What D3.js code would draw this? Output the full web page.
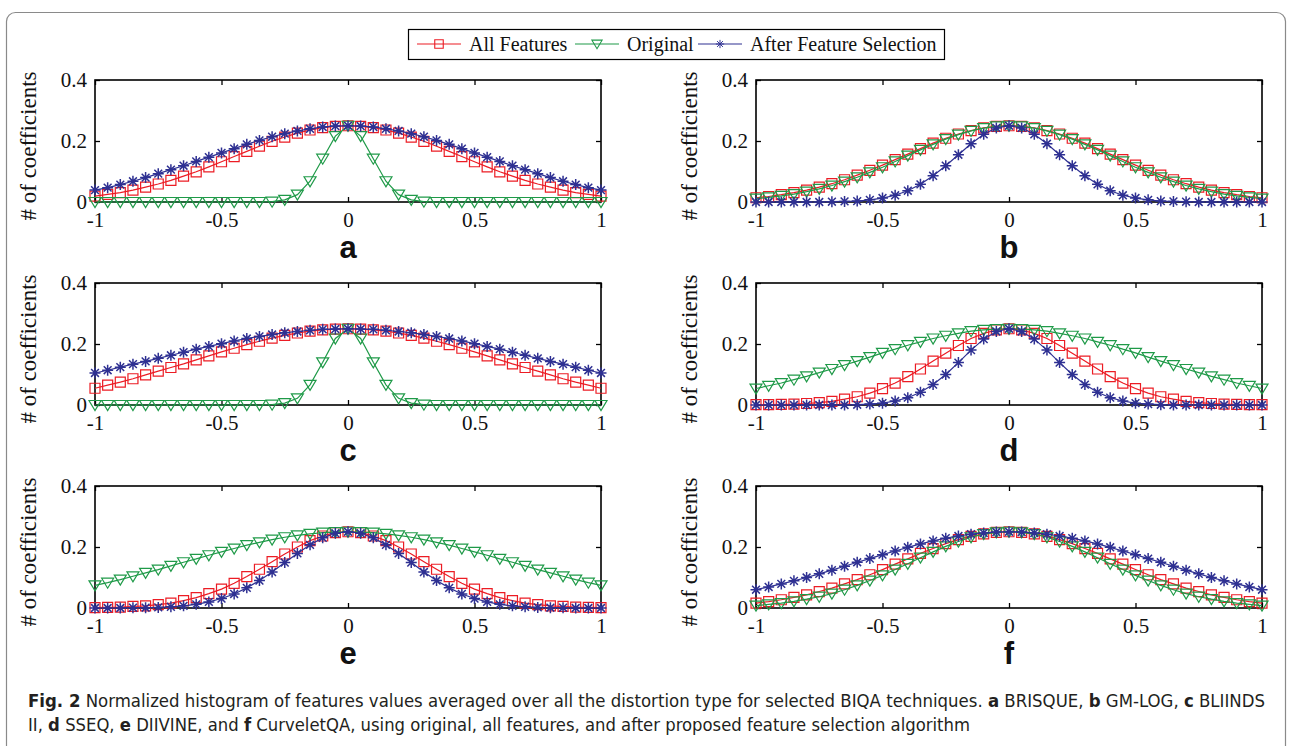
<!DOCTYPE html>
<html>
<head>
<meta charset="utf-8">
<script src="https://cdn.jsdelivr.net/npm/d3@7"></script>
<style>
    body { margin: 0; background: #fff; }
</style>
</head>
<body>
<div id="plot"></div>
<script>
// x positions of the histogram bins
let xValues = [-1, -0.95, -0.9, -0.85, -0.8, -0.75, -0.7, -0.65, -0.6, -0.55, -0.5, -0.45, -0.4, -0.35, -0.3, -0.25, -0.2, -0.15, -0.1, -0.05, 0,
    0.05, 0.1, 0.15, 0.2, 0.25, 0.3, 0.35, 0.4, 0.45, 0.5, 0.55, 0.6, 0.65, 0.7, 0.75, 0.8, 0.85, 0.9, 0.95, 1];

let xTicks = [-1, -0.5, 0, 0.5, 1];
let yTicks = [0, 0.2, 0.4];
let seriesNames = ['All Features', 'Original', 'After Feature Selection'];
let panelLetters = ['a', 'b', 'c', 'd', 'e', 'f'];

// a - BRISQUE
let aAll = [0.019, 0.025, 0.031, 0.039, 0.049, 0.059, 0.071, 0.085, 0.099, 0.115, 0.132, 0.149, 0.166, 0.183, 0.199, 0.213, 0.226, 0.236, 0.244, 0.248, 0.25,
    0.248, 0.244, 0.236, 0.226, 0.213, 0.199, 0.183, 0.166, 0.149, 0.132, 0.115, 0.099, 0.085, 0.071, 0.059, 0.049, 0.039, 0.031, 0.025, 0.019];
let aOrig = [0, 0, 0, 0, 0, 0, 0, 0, 0, 0, 0, 0, 0, 0, 0.001, 0.007, 0.024, 0.068, 0.142, 0.216, 0.25,
    0.216, 0.142, 0.068, 0.024, 0.007, 0.001, 0, 0, 0, 0, 0, 0, 0, 0, 0, 0, 0, 0, 0, 0];
let aSel = [0.039, 0.047, 0.057, 0.068, 0.080, 0.093, 0.106, 0.119, 0.133, 0.147, 0.161, 0.175, 0.189, 0.202, 0.214, 0.224, 0.233, 0.240, 0.246, 0.249, 0.25,
    0.249, 0.246, 0.240, 0.233, 0.224, 0.214, 0.202, 0.189, 0.175, 0.161, 0.147, 0.133, 0.119, 0.106, 0.093, 0.080, 0.068, 0.057, 0.047, 0.039];

// b - GM-LOG
let bAll = [0.014, 0.018, 0.024, 0.031, 0.039, 0.049, 0.060, 0.073, 0.088, 0.104, 0.121, 0.139, 0.157, 0.175, 0.193, 0.209, 0.223, 0.234, 0.243, 0.248, 0.25,
    0.248, 0.243, 0.234, 0.223, 0.209, 0.193, 0.175, 0.157, 0.139, 0.121, 0.104, 0.088, 0.073, 0.060, 0.049, 0.039, 0.031, 0.024, 0.018, 0.014];
let bOrig = [0.011, 0.015, 0.020, 0.026, 0.034, 0.043, 0.054, 0.067, 0.081, 0.097, 0.114, 0.133, 0.152, 0.171, 0.189, 0.206, 0.221, 0.233, 0.242, 0.248, 0.25,
    0.248, 0.242, 0.233, 0.221, 0.206, 0.189, 0.171, 0.152, 0.133, 0.114, 0.097, 0.081, 0.067, 0.054, 0.043, 0.034, 0.026, 0.020, 0.015, 0.011];
let bSel = [0, 0, 0, 0, 0, 0, 0.001, 0.002, 0.003, 0.007, 0.013, 0.022, 0.037, 0.058, 0.086, 0.119, 0.155, 0.191, 0.222, 0.243, 0.25,
    0.243, 0.222, 0.191, 0.155, 0.119, 0.086, 0.058, 0.037, 0.022, 0.013, 0.007, 0.003, 0.002, 0.001, 0, 0, 0, 0, 0, 0];

// c - BLIINDS II
let cAll = [0.055, 0.065, 0.075, 0.086, 0.099, 0.111, 0.123, 0.135, 0.148, 0.161, 0.174, 0.186, 0.198, 0.209, 0.219, 0.228, 0.236, 0.242, 0.246, 0.249, 0.25,
    0.249, 0.246, 0.242, 0.236, 0.228, 0.219, 0.209, 0.198, 0.186, 0.174, 0.161, 0.148, 0.135, 0.123, 0.111, 0.099, 0.086, 0.075, 0.065, 0.055];
let cOrig = [0, 0, 0, 0, 0, 0, 0, 0, 0, 0, 0, 0, 0, 0, 0.001, 0.006, 0.022, 0.066, 0.140, 0.218, 0.25,
    0.218, 0.140, 0.066, 0.022, 0.006, 0.001, 0, 0, 0, 0, 0, 0, 0, 0, 0, 0, 0, 0, 0, 0];
let cSel = [0.105, 0.114, 0.124, 0.134, 0.143, 0.153, 0.163, 0.173, 0.183, 0.192, 0.201, 0.210, 0.218, 0.225, 0.231, 0.237, 0.241, 0.245, 0.248, 0.249, 0.25,
    0.249, 0.248, 0.245, 0.241, 0.237, 0.231, 0.225, 0.218, 0.210, 0.201, 0.192, 0.183, 0.173, 0.163, 0.153, 0.143, 0.134, 0.124, 0.114, 0.105];

// d - SSEQ
let dAll = [0.001, 0.001, 0.002, 0.003, 0.005, 0.008, 0.012, 0.019, 0.027, 0.039, 0.054, 0.072, 0.093, 0.118, 0.144, 0.170, 0.195, 0.218, 0.235, 0.246, 0.25,
    0.246, 0.235, 0.218, 0.195, 0.170, 0.144, 0.118, 0.093, 0.072, 0.054, 0.039, 0.027, 0.019, 0.012, 0.008, 0.005, 0.003, 0.002, 0.001, 0.001];
let dOrig = [0.054, 0.063, 0.072, 0.083, 0.094, 0.106, 0.118, 0.131, 0.144, 0.157, 0.171, 0.183, 0.196, 0.207, 0.218, 0.227, 0.235, 0.242, 0.246, 0.249, 0.25,
    0.249, 0.246, 0.242, 0.235, 0.227, 0.218, 0.207, 0.196, 0.183, 0.171, 0.157, 0.144, 0.131, 0.118, 0.106, 0.094, 0.083, 0.072, 0.063, 0.054];
let dSel = [0, 0, 0, 0, 0, 0, 0, 0, 0.001, 0.003, 0.006, 0.013, 0.024, 0.042, 0.067, 0.100, 0.139, 0.180, 0.216, 0.241, 0.25,
    0.241, 0.216, 0.180, 0.139, 0.100, 0.067, 0.042, 0.024, 0.013, 0.006, 0.003, 0.001, 0, 0, 0, 0, 0, 0, 0, 0];

// e - DIIVINE
let eAll = [0.001, 0.002, 0.003, 0.005, 0.007, 0.011, 0.016, 0.024, 0.034, 0.047, 0.062, 0.081, 0.103, 0.127, 0.152, 0.177, 0.200, 0.221, 0.236, 0.247, 0.25,
    0.247, 0.236, 0.221, 0.200, 0.177, 0.152, 0.127, 0.103, 0.081, 0.062, 0.047, 0.034, 0.024, 0.016, 0.011, 0.007, 0.005, 0.003, 0.002, 0.001];
let eOrig = [0.074, 0.083, 0.093, 0.104, 0.115, 0.126, 0.138, 0.150, 0.161, 0.173, 0.184, 0.195, 0.206, 0.215, 0.224, 0.232, 0.238, 0.243, 0.247, 0.249, 0.25,
    0.249, 0.247, 0.243, 0.238, 0.232, 0.224, 0.215, 0.206, 0.195, 0.184, 0.173, 0.161, 0.150, 0.138, 0.126, 0.115, 0.104, 0.093, 0.083, 0.074];
let eSel = [0, 0, 0, 0.001, 0.001, 0.002, 0.004, 0.007, 0.012, 0.020, 0.031, 0.046, 0.066, 0.090, 0.118, 0.149, 0.179, 0.207, 0.230, 0.245, 0.25,
    0.245, 0.230, 0.207, 0.179, 0.149, 0.118, 0.090, 0.066, 0.046, 0.031, 0.020, 0.012, 0.007, 0.004, 0.002, 0.001, 0.001, 0, 0, 0];

// f - CurveletQA
let fAll = [0.016, 0.021, 0.027, 0.035, 0.043, 0.054, 0.065, 0.079, 0.093, 0.109, 0.126, 0.144, 0.161, 0.179, 0.195, 0.211, 0.224, 0.235, 0.243, 0.248, 0.25,
    0.248, 0.243, 0.235, 0.224, 0.211, 0.195, 0.179, 0.161, 0.144, 0.126, 0.109, 0.093, 0.079, 0.065, 0.054, 0.043, 0.035, 0.027, 0.021, 0.016];
let fOrig = [0.008, 0.012, 0.016, 0.022, 0.029, 0.037, 0.047, 0.060, 0.074, 0.090, 0.107, 0.126, 0.145, 0.165, 0.184, 0.202, 0.218, 0.232, 0.242, 0.248, 0.25,
    0.248, 0.242, 0.232, 0.218, 0.202, 0.184, 0.165, 0.145, 0.126, 0.107, 0.090, 0.074, 0.060, 0.047, 0.037, 0.029, 0.022, 0.016, 0.012, 0.008];
let fSel = [0.060, 0.069, 0.079, 0.089, 0.100, 0.112, 0.124, 0.137, 0.150, 0.162, 0.175, 0.187, 0.199, 0.210, 0.220, 0.229, 0.236, 0.242, 0.246, 0.249, 0.25,
    0.249, 0.246, 0.242, 0.236, 0.229, 0.220, 0.210, 0.199, 0.187, 0.175, 0.162, 0.150, 0.137, 0.124, 0.112, 0.100, 0.089, 0.079, 0.069, 0.060];

let panelSeries = [
    [aAll, aOrig, aSel],
    [bAll, bOrig, bSel],
    [cAll, cOrig, cSel],
    [dAll, dOrig, dSel],
    [eAll, eOrig, eSel],
    [fAll, fOrig, fSel]
];

let svgWidth = 1291;
let svgHeight = 746;

let colors = ['#ec1c24', '#1f9a48', '#2e3092'];
let markerPaths = [
    'M-5,-5H5V5H-5Z',
    'M-6,-4.5H6L0,5.5Z',
    'M0,-5.5V5.5M-5.5,0H5.5M-3.9,-3.9L3.9,3.9M-3.9,3.9L3.9,-3.9'
];

let serif = '"Liberation Serif", "Times New Roman", Times, serif';

let colLeft = [95, 756];
let plotWidth = 506;
let rowTop = [80, 283, 486];
let plotHeight = 122;

let $svg = d3.select('#plot')
    .append('svg')
    .attr('width', svgWidth)
    .attr('height', svgHeight)
    .style('display', 'block');

// outer figure frame
$svg.append('rect')
    .attr('x', 6.5)
    .attr('y', 12.5)
    .attr('width', 1279)
    .attr('height', 780)
    .attr('rx', 9)
    .attr('fill', 'none')
    .attr('stroke', '#8a8a8a')
    .attr('stroke-width', 1.2);

// legend
let $legend = $svg.append('g');
$legend.append('rect')
    .attr('x', 408.5)
    .attr('y', 29.5)
    .attr('width', 536)
    .attr('height', 30)
    .attr('fill', '#fff')
    .attr('stroke', '#000')
    .attr('stroke-width', 1.2);

let legendX = [417, 575, 698];
let legendLen = 44;
seriesNames.forEach((name, i) => {
    let $item = $legend.append('g').attr('transform', `translate(${legendX[i]}, 44)`);
    $item.append('line')
        .attr('x1', 0).attr('x2', legendLen)
        .attr('stroke', colors[i])
        .attr('stroke-width', 1.2);
    $item.append('path')
        .attr('d', markerPaths[i])
        .attr('transform', `translate(${legendLen / 2}, 0)${i === 2 ? ' scale(0.75)' : ' scale(0.85)'}`)
        .attr('fill', 'none')
        .attr('stroke', colors[i])
        .attr('stroke-width', 1.3);
    $item.append('text')
        .attr('x', legendLen + 8)
        .attr('y', 6.5)
        .attr('font-family', serif)
        .attr('font-size', 20)
        .attr('fill', '#111')
        .text(name);
});

// one subplot
function drawPanel(idx) {
    let col = idx % 2;
    let row = Math.floor(idx / 2);
    let x0 = colLeft[col];
    let y0 = rowTop[row];

    let xScale = d3.scaleLinear().domain([-1, 1]).range([x0, x0 + plotWidth]);
    let yScale = d3.scaleLinear().domain([0, 0.4]).range([y0 + plotHeight, y0]);

    let $g = $svg.append('g');

    let styleAxis = (sel) => {
        sel.select('.domain').remove();
        sel.attr('font-family', serif).attr('font-size', 21);
        sel.selectAll('line').attr('stroke', '#000').attr('stroke-width', 1.3);
        sel.selectAll('text').attr('fill', '#111');
    };

    $g.append('g')
        .attr('transform', `translate(0, ${yScale(0)})`)
        .call(d3.axisBottom(xScale).tickValues(xTicks).tickSize(-5).tickSizeOuter(0).tickPadding(10).tickFormat(d => String(d)))
        .call(styleAxis);

    $g.append('g')
        .attr('transform', `translate(0, ${yScale(0.4)})`)
        .call(d3.axisTop(xScale).tickValues(xTicks).tickSize(-5).tickSizeOuter(0).tickFormat(''))
        .call(styleAxis);

    $g.append('g')
        .attr('transform', `translate(${xScale(-1)}, 0)`)
        .call(d3.axisLeft(yScale).tickValues(yTicks).tickSize(-5).tickSizeOuter(0).tickPadding(8).tickFormat(d => String(d)))
        .call(styleAxis);

    $g.append('g')
        .attr('transform', `translate(${xScale(1)}, 0)`)
        .call(d3.axisRight(yScale).tickValues(yTicks).tickSize(-5).tickSizeOuter(0).tickFormat(''))
        .call(styleAxis);

    // axes box
    $g.append('rect')
        .attr('x', xScale(-1))
        .attr('y', yScale(0.4))
        .attr('width', xScale(1) - xScale(-1))
        .attr('height', yScale(0) - yScale(0.4))
        .attr('fill', 'none')
        .attr('stroke', '#000')
        .attr('stroke-width', 1.6);

    // y label
    $g.append('text')
        .attr('transform', `translate(${x0 - 59}, ${y0 + plotHeight / 2 + 5}) rotate(-90)`)
        .attr('text-anchor', 'middle')
        .attr('font-family', serif)
        .attr('font-size', 23)
        .attr('fill', '#111')
        .text('# of coefficients');

    // panel letter
    $g.append('text')
        .attr('x', x0 + plotWidth / 2)
        .attr('y', yScale(0) + 56)
        .attr('text-anchor', 'middle')
        .attr('font-family', '"Liberation Sans", Arial, sans-serif')
        .attr('font-weight', 'bold')
        .attr('font-size', 31)
        .attr('fill', '#111')
        .text(panelLetters[idx]);

    let line = d3.line()
        .x((d, i) => xScale(xValues[i]))
        .y(d => yScale(d));

    panelSeries[idx].forEach((values, s) => {
        $g.append('path')
            .datum(values)
            .attr('d', line)
            .attr('fill', 'none')
            .attr('stroke', colors[s])
            .attr('stroke-width', 1.2);

        $g.selectAll(null)
            .data(values)
            .enter()
            .append('path')
            .attr('d', markerPaths[s])
            .attr('transform', (d, i) => `translate(${xScale(xValues[i])}, ${yScale(d)})`)
            .attr('fill', 'none')
            .attr('stroke', colors[s])
            .attr('stroke-width', s === 2 ? 1.5 : 1.2);
    });
}

panelSeries.forEach((p, i) => drawPanel(i));

// caption
let captionFont = '"Liberation Sans Narrow", "DejaVu Sans Condensed", "Open Sans", sans-serif';
let captionLines = [
    [['Fig. 2', true], [' Normalized histogram of features values averaged over all the distortion type for selected BIQA techniques. ', false],
        ['a', true], [' BRISQUE, ', false], ['b', true], [' GM-LOG, ', false], ['c', true], [' BLIINDS', false]],
    [['II, ', false], ['d', true], [' SSEQ, ', false], ['e', true], [' DIIVINE, and ', false], ['f', true],
        [' CurveletQA, using original, all features, and after proposed feature selection algorithm', false]]
];
let captionY = [707, 731];
let captionLen = [1237, 942];

captionLines.forEach((parts, i) => {
    let $t = $svg.append('text')
        .attr('x', 28)
        .attr('y', captionY[i])
        .attr('font-family', captionFont)
        .attr('font-size', 18)
        .attr('fill', '#231f20')
        .attr('textLength', captionLen[i])
        .attr('lengthAdjust', 'spacingAndGlyphs');
    parts.forEach(p => {
        $t.append('tspan')
            .attr('font-weight', p[1] ? 'bold' : 'normal')
            .text(p[0]);
    });
});
</script>
</body>
</html>
